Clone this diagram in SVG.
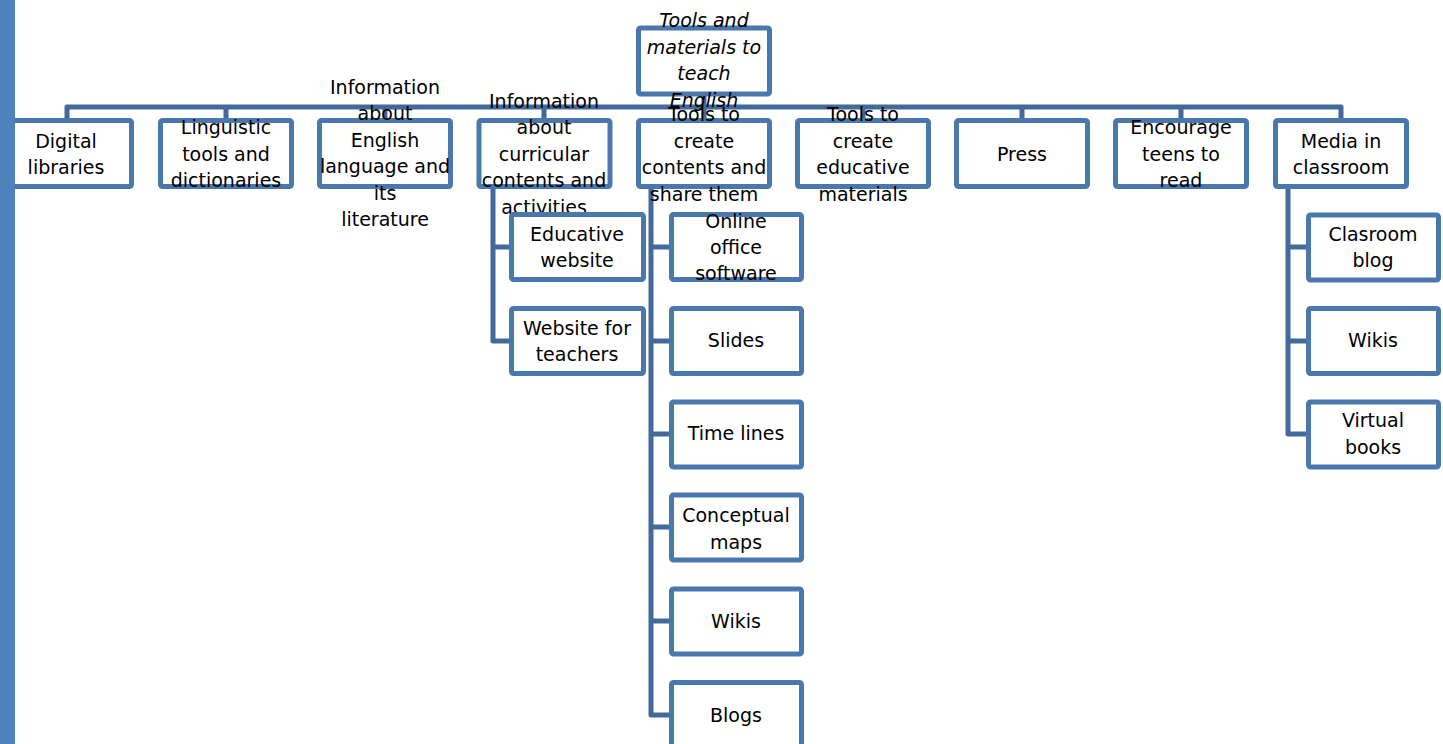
<svg xmlns="http://www.w3.org/2000/svg" width="1443" height="744" viewBox="0 0 1443 744">
<style>
.box{fill:#fff;stroke:#4A77AC;stroke-width:5}
.con{fill:none;stroke:#43699A;stroke-width:5;stroke-linejoin:round}
text{font-family:"DejaVu Sans","Liberation Sans",sans-serif;font-size:19px;fill:#000;text-anchor:middle}
.it{font-style:italic}
</style>
<rect x="0" y="0" width="1443" height="744" fill="#fff"/>
<g id="connectors">
<path class="con" d="M704 96V107M67 118V107H1341V118M226 107V118M385 107V118M544 107V118M704 107V118M863 107V118M1022 107V118M1181 107V118"/>
<path class="con" d="M493 187V341H511M493 247H511"/>
<path class="con" d="M651 187V715H671M651 247H671M651 341H671M651 434H671M651 527H671M651 621H671"/>
<path class="con" d="M1288 187V434H1306M1288 247H1306M1288 341H1306"/>
</g>
<g id="root"><rect class="box" x="638.5" y="28" width="131" height="66" rx="2"/>
<text class="it"><tspan x="704" y="27">Tools and</tspan><tspan x="704" y="54">materials to</tspan><tspan x="704" y="80">teach</tspan><tspan x="704" y="107">English</tspan></text></g>
<g id="n1"><rect class="box" x="0.5" y="120.5" width="131" height="66" rx="2"/>
<text><tspan x="66" y="148">Digital</tspan><tspan x="66" y="174">libraries</tspan></text></g>
<g id="n2"><rect class="box" x="160.5" y="120.5" width="131" height="66" rx="2"/>
<text><tspan x="226" y="134">Linguistic</tspan><tspan x="226" y="161">tools and</tspan><tspan x="226" y="187">dictionaries</tspan></text></g>
<g id="n3"><rect class="box" x="319.5" y="120.5" width="131" height="66" rx="2"/>
<text><tspan x="385" y="94">Information</tspan><tspan x="385" y="120">about</tspan><tspan x="385" y="147">English</tspan><tspan x="385" y="173">language and</tspan><tspan x="385" y="200">its</tspan><tspan x="385" y="226">literature</tspan></text></g>
<g id="n4"><rect class="box" x="479" y="120.5" width="131" height="66" rx="2"/>
<text><tspan x="544" y="108">Information</tspan><tspan x="544" y="134">about</tspan><tspan x="544" y="161">curricular</tspan><tspan x="544" y="187">contents and</tspan><tspan x="544" y="214">activities</tspan></text></g>
<g id="n5"><rect class="box" x="638.5" y="120.5" width="131" height="66" rx="2"/>
<text><tspan x="704" y="121">Tools to</tspan><tspan x="704" y="148">create</tspan><tspan x="704" y="174">contents and</tspan><tspan x="704" y="201">share them</tspan></text></g>
<g id="n6"><rect class="box" x="797.5" y="120.5" width="131" height="66" rx="2"/>
<text><tspan x="863" y="121">Tools to</tspan><tspan x="863" y="148">create</tspan><tspan x="863" y="174">educative</tspan><tspan x="863" y="201">materials</tspan></text></g>
<g id="n7"><rect class="box" x="956.5" y="120.5" width="131" height="66" rx="2"/>
<text x="1022" y="161">Press</text></g>
<g id="n8"><rect class="box" x="1115.5" y="120.5" width="131" height="66" rx="2"/>
<text><tspan x="1181" y="134">Encourage</tspan><tspan x="1181" y="161">teens to</tspan><tspan x="1181" y="187">read</tspan></text></g>
<g id="n9"><rect class="box" x="1275.5" y="120.5" width="131" height="66" rx="2"/>
<text><tspan x="1341" y="148">Media in</tspan><tspan x="1341" y="174">classroom</tspan></text></g>
<g id="c41"><rect class="box" x="511.5" y="214.5" width="132" height="65" rx="2"/>
<text><tspan x="577" y="241">Educative</tspan><tspan x="577" y="267">website</tspan></text></g>
<g id="c42"><rect class="box" x="511.5" y="308.5" width="132" height="65" rx="2"/>
<text><tspan x="577" y="335">Website for</tspan><tspan x="577" y="361">teachers</tspan></text></g>
<g id="c51"><rect class="box" x="671.5" y="214.5" width="130" height="65" rx="2"/>
<text><tspan x="736" y="228">Online</tspan><tspan x="736" y="254">office</tspan><tspan x="736" y="280">software</tspan></text></g>
<g id="c52"><rect class="box" x="671.5" y="308.5" width="130" height="65" rx="2"/>
<text x="736" y="347">Slides</text></g>
<g id="c53"><rect class="box" x="671.5" y="402" width="130" height="65" rx="2"/>
<text x="736" y="440">Time lines</text></g>
<g id="c54"><rect class="box" x="671.5" y="495" width="130" height="65" rx="2"/>
<text><tspan x="736" y="522">Conceptual</tspan><tspan x="736" y="549">maps</tspan></text></g>
<g id="c55"><rect class="box" x="671.5" y="589" width="130" height="65" rx="2"/>
<text x="736" y="628">Wikis</text></g>
<g id="c56"><rect class="box" x="671.5" y="682.5" width="130" height="65" rx="2"/>
<text x="736" y="722">Blogs</text></g>
<g id="c91"><rect class="box" x="1308.5" y="215" width="130" height="65" rx="2"/>
<text><tspan x="1373" y="241">Clasroom</tspan><tspan x="1373" y="267">blog</tspan></text></g>
<g id="c92"><rect class="box" x="1308.5" y="308.5" width="130" height="65" rx="2"/>
<text x="1373" y="347">Wikis</text></g>
<g id="c93"><rect class="box" x="1308.5" y="402" width="130" height="65" rx="2"/>
<text><tspan x="1373" y="427">Virtual</tspan><tspan x="1373" y="454">books</tspan></text></g>
<rect x="0" y="0" width="15" height="744" fill="#4F81BD"/>
</svg>
